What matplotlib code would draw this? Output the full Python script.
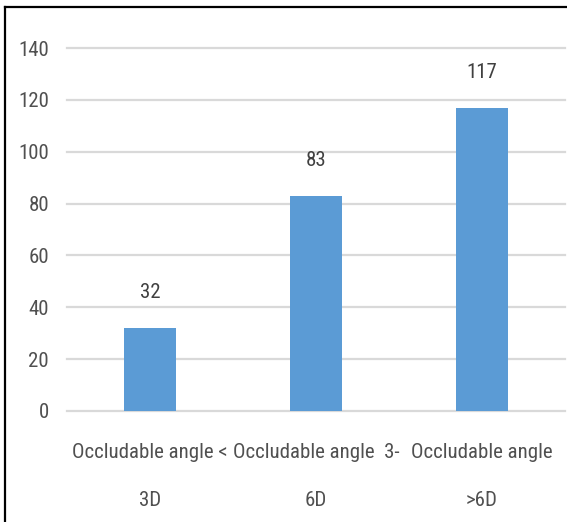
import matplotlib.pyplot as plt
from matplotlib import font_manager
from matplotlib.lines import Line2D

categories = ['Occludable angle <\n3D', 'Occludable angle  3-\n6D', 'Occludable angle\n>6D']
counts = [32, 83, 117]
yticks = [0, 20, 40, 60, 80, 100, 120, 140]

# pick a narrow face if one is installed
font_family, font_stretch = 'DejaVu Sans', 'normal'
names = {(f.name, f.stretch) for f in font_manager.fontManager.ttflist}
for fam in ['Liberation Sans Narrow', 'Roboto Condensed', 'Open Sans Condensed',
            'DejaVu Sans Condensed']:
    if any(n == fam for n, _ in names):
        font_family = fam
        break
else:
    if ('DejaVu Sans', 'condensed') in names:
        font_stretch = 'condensed'
plt.rcParams['font.family'] = [font_family, 'DejaVu Sans']
plt.rcParams['font.stretch'] = font_stretch
fs = 15

W, H = 567, 522
fig = plt.figure(figsize=(W / 100, H / 100), dpi=100)
ax = fig.add_axes([67 / W, (H - 411) / H, 498 / W, 363 / H])

x = range(len(categories))
bars = ax.bar(x, counts, width=0.31, color='#5B9BD5', zorder=3)

ax.set_ylim(0, 140)
ax.set_xlim(-0.5, len(categories) - 0.5)
ax.set_yticks(yticks)
ax.yaxis.grid(True, color='#d9d9d9', linewidth=1.6, zorder=0)
for gl in ax.get_ygridlines():
    gl.set_clip_on(False)
for s in ax.spines.values():
    s.set_visible(False)
ax.tick_params(axis='y', length=0, pad=13, labelsize=fs, labelcolor='#505050')
ax.tick_params(axis='x', length=0, pad=23, labelsize=fs, labelcolor='#505050')
ax.set_xticks(list(x))
ax.set_xticklabels(categories, linespacing=2.95)

# value labels above each bar
for b, v in zip(bars, counts):
    ax.annotate(str(v), (b.get_x() + b.get_width() / 2, v),
                xytext=(0, 26), textcoords='offset pixels',
                ha='center', va='bottom', fontsize=fs, color='#404040')

# frame on the left and top edges
fig.add_artist(Line2D([4.5 / W, 4.5 / W], [0, 1 - 6.5 / H], color='black', linewidth=1.6, transform=fig.transFigure))
fig.add_artist(Line2D([4.5 / W, 1], [1 - 6.5 / H, 1 - 6.5 / H], color='black', linewidth=1.6, transform=fig.transFigure))

fig.savefig('out.png', dpi=100)
